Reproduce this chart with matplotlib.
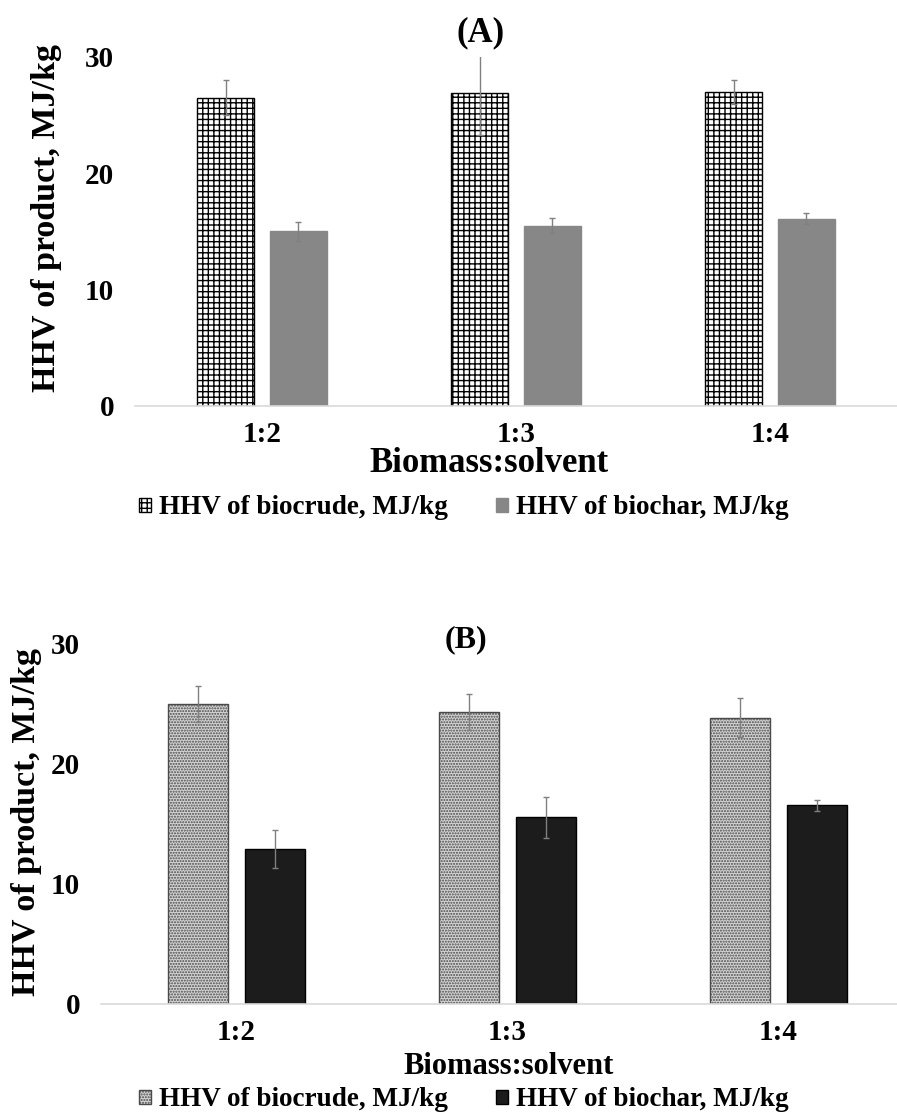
import numpy as np
import matplotlib
matplotlib.use('Agg')
import matplotlib.pyplot as plt

plt.rcParams['font.family'] = ['Liberation Serif', 'DejaVu Serif']
plt.rcParams['font.weight'] = 'bold'
plt.rcParams['hatch.linewidth'] = 1.0

# data
ratios = ['1:2', '1:3', '1:4']
a_biocrude = [26.5, 26.9, 27.0]
a_biocrude_err = [1.5, 3.6, 1.0]
a_biochar = [15.0, 15.5, 16.1]
a_biochar_err = [0.8, 0.65, 0.45]
b_biocrude = [24.9, 24.3, 23.8]
b_biocrude_err = [1.5, 1.5, 1.6]
b_biochar = [12.9, 15.5, 16.5]
b_biochar_err = [1.6, 1.7, 0.45]
yticks = [0, 10, 20, 30]

W, H = 897, 1113
fig = plt.figure(figsize=(W / 100, H / 100), dpi=100)


def px_axes(left, right, top, bottom):
    return fig.add_axes([left / W, 1 - bottom / H, (right - left) / W, (bottom - top) / H])


def style(ax):
    ax.set_xlim(-0.5, 2.5)
    ax.set_ylim(0, 30)
    ax.set_yticks(yticks)
    ax.set_xticks(range(len(ratios)))
    ax.set_xticklabels(ratios)
    for s in ['top', 'right', 'left']:
        ax.spines[s].set_visible(False)
    ax.spines['bottom'].set_color('#d9d9d9')
    ax.spines['bottom'].set_linewidth(1.2)
    ax.tick_params(axis='both', length=0, labelsize=21)
    ax.tick_params(axis='y', pad=15)
    ax.tick_params(axis='x', pad=11)


ekw = dict(ecolor='#808080', elinewidth=1.0, capsize=2.5, capthick=1.0)
x = np.arange(len(ratios))
off = 0.142
leg_kw = dict(loc='center left', ncol=2, frameon=False, fontsize=19.5, borderpad=0,
              borderaxespad=0, handlelength=0.45, handleheight=0.45, handletextpad=0.3,
              columnspacing=1.75)

# panel A
axA = px_axes(135, 897, 57, 406)
axA.bar(x - off, a_biocrude, 0.224, yerr=a_biocrude_err, color='white', edgecolor='black',
        hatch='+++', linewidth=1.0, error_kw=ekw, label='HHV of biocrude, MJ/kg')
axA.bar(x + off, a_biochar, 0.224, yerr=a_biochar_err, color='#878787', edgecolor='#878787',
        error_kw=ekw, label='HHV of biochar, MJ/kg')
style(axA)
fig.text(481 / W, 1 - 33 / H, '(A)', ha='center', va='center', fontsize=25, fontweight='bold')
fig.text(47 / W, 1 - 218 / H, 'HHV of product, MJ/kg', rotation=90, ha='center', va='center',
         fontsize=24.5, fontweight='bold')
fig.text(489 / W, 1 - 464 / H, 'Biomass:solvent', ha='center', va='center', fontsize=25,
         fontweight='bold')
hA, lA = axA.get_legend_handles_labels()
fig.legend(hA, lA, bbox_to_anchor=(139 / W, 1 - 508 / H), **leg_kw)

# panel B
axB = px_axes(101, 914, 643, 1004)
axB.bar(x - off, b_biocrude, 0.221, yerr=b_biocrude_err, color='#d4d4d4', edgecolor='#4a4a4a',
        hatch='......', linewidth=1.0, error_kw=ekw, label='HHV of biocrude, MJ/kg')
axB.bar(x + off, b_biochar, 0.221, yerr=b_biochar_err, color='#1c1c1c', edgecolor='#000000',
        error_kw=ekw, label='HHV of biochar, MJ/kg')
style(axB)
fig.text(466 / W, 1 - 640 / H, '(B)', ha='center', va='center', fontsize=23, fontweight='bold')
fig.text(27 / W, 1 - 822 / H, 'HHV of product, MJ/kg', rotation=90, ha='center', va='center',
         fontsize=24.5, fontweight='bold')
fig.text(509 / W, 1 - 1066 / H, 'Biomass:solvent', ha='center', va='center', fontsize=22,
         fontweight='bold')
hB, lB = axB.get_legend_handles_labels()
fig.legend(hB, lB, bbox_to_anchor=(139 / W, 1 - 1100 / H), **leg_kw)

fig.savefig('out.png', dpi=100)
